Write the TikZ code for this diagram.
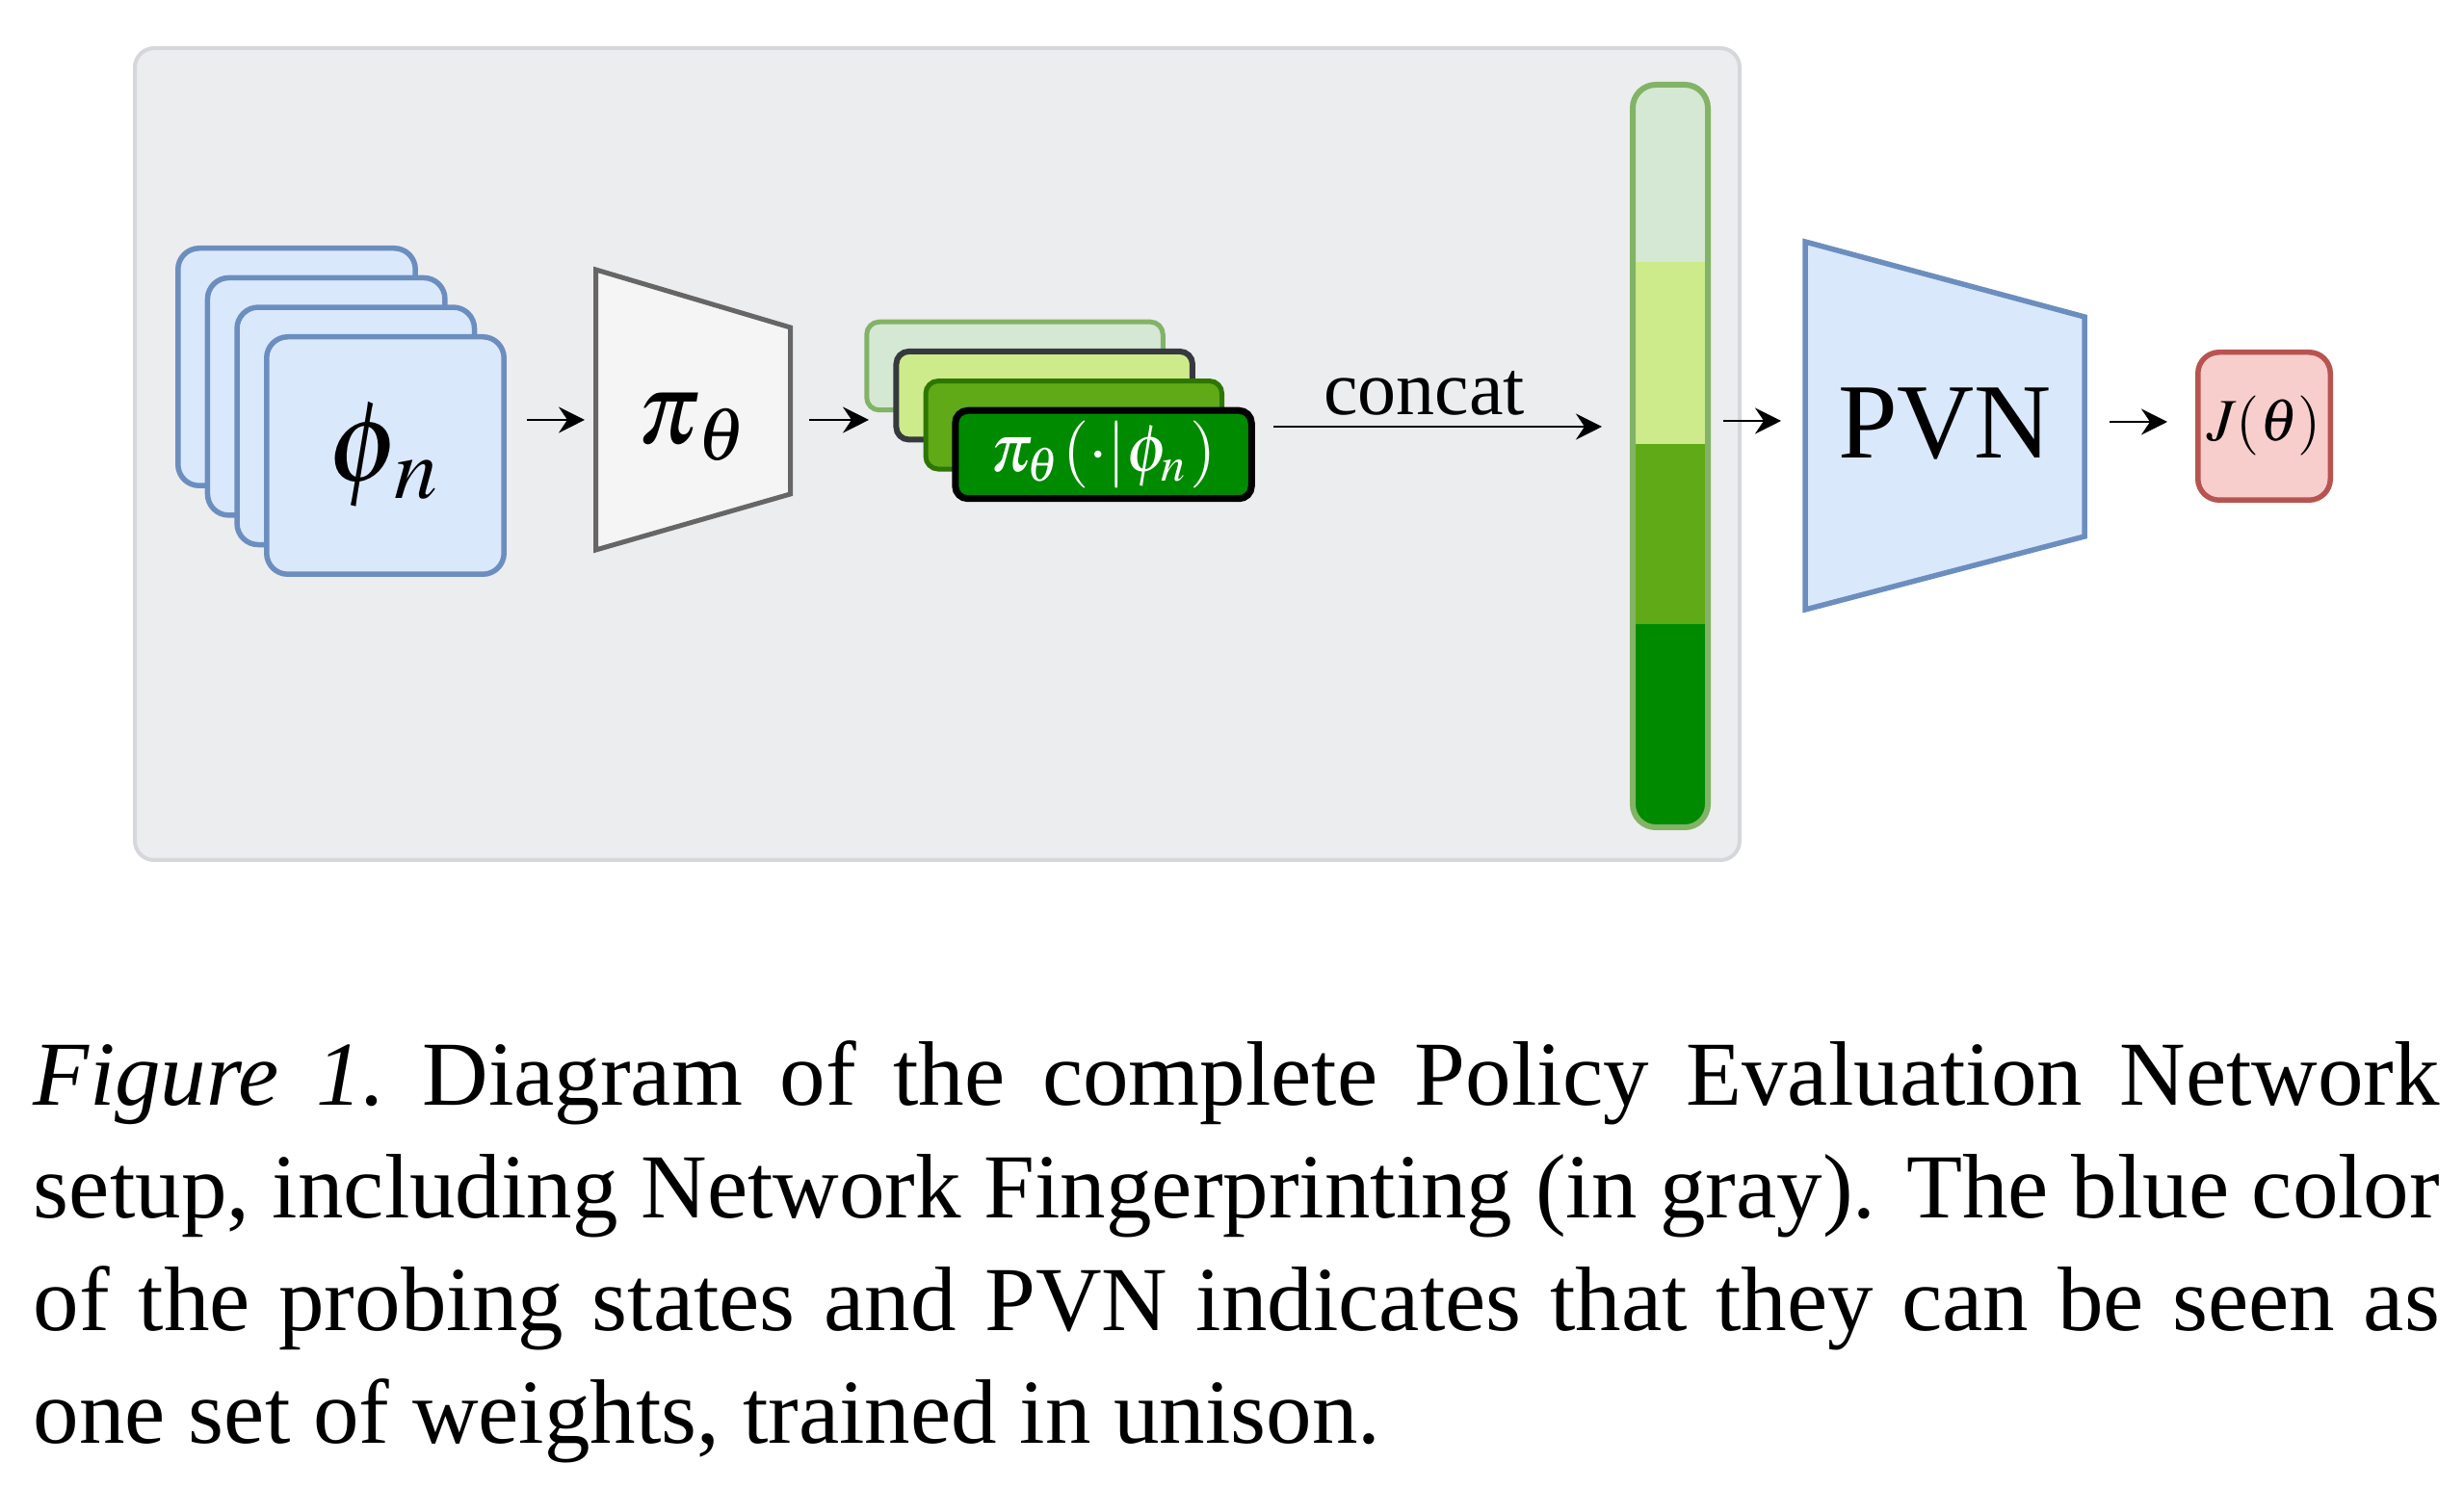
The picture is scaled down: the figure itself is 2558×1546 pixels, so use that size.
\documentclass[tikz,border=0pt]{standalone}
\usepackage{mathptmx}
\usepackage[no-math]{fontspec}
\setmainfont{Liberation Serif}
\usetikzlibrary{arrows.meta}
\definecolor{fpFill}{HTML}{ECEDEF}
\definecolor{fpDraw}{HTML}{D5D7DB}
\definecolor{blueFill}{HTML}{DAE8FC}
\definecolor{blueDraw}{HTML}{6C8EBF}
\definecolor{grayFill}{HTML}{F5F5F5}
\definecolor{grayDraw}{HTML}{666666}
\definecolor{paleGreen}{HTML}{D5E8D4}
\definecolor{paleGreenDraw}{HTML}{82B366}
\definecolor{limeGreen}{HTML}{CDEB8B}
\definecolor{limeGreenDraw}{HTML}{36393D}
\definecolor{midGreen}{HTML}{60A917}
\definecolor{midGreenDraw}{HTML}{2D7600}
\definecolor{darkGreen}{HTML}{008A00}
\definecolor{redFill}{HTML}{F8CECC}
\definecolor{redDraw}{HTML}{B85450}

\begin{document}
\begin{tikzpicture}[x=0.1pt,y=-0.1pt,
    probeBox/.style={draw=blueDraw,fill=blueFill,line width=0.55pt,rounded corners=2.2pt,
      minimum width=24.65pt,minimum height=24.65pt,inner sep=0pt},
    outBox/.style={rounded corners=1.3pt,minimum width=30.75pt,minimum height=9.15pt,inner sep=0pt},
    flow/.style={-{Stealth[length=2.7pt,width=2.7pt,inset=0.9pt]},line width=0.22pt}]
      \useasboundingbox (0,0) rectangle (2558,1546);
      %fingerprinting
      \draw[fill=fpFill,draw=fpDraw,line width=0.4pt,rounded corners=2pt] (140,50) rectangle (1806,893);
      \node[probeBox] (probeOne) at (308,381) {};
      \node[probeBox] (probeTwo) at (338.7,411.7) {};
      \node[probeBox] (probeThree) at (369.3,442.3) {};
      \node[probeBox,font=\fontsize{12}{14}\selectfont] (probeFour) at (400,473) {$\phi_{\kern0.6pt n}$};
      \draw[fill=grayFill,draw=grayDraw,line width=0.5pt] (618.5,280) -- (820.5,340) -- (820.5,513) -- (618.5,571) -- cycle;
      \node[font=\fontsize{10.5}{12}\selectfont] (policy) at (720,444) {$\pi_{\kern0.5pt\theta}$};
      \node[outBox,draw=paleGreenDraw,fill=paleGreen,line width=0.5pt] (outOne) at (1053.5,380) {};
      \node[outBox,draw=limeGreenDraw,fill=limeGreen,line width=0.6pt] (outTwo) at (1084.2,410.7) {};
      \node[outBox,draw=midGreenDraw,fill=midGreen,line width=0.5pt] (outThree) at (1114.8,441.3) {};
      \node[outBox,draw=black,fill=darkGreen,line width=0.7pt,text=white,
        font=\fontsize{7}{8}\selectfont] (outFour) at (1145.5,472) {$\pi_\theta(\cdot|\phi_n)$};
      %concatenated vector
      \begin{scope}
        \clip[rounded corners=2.4pt] (1695,88) rectangle (1773,859);
        \fill[paleGreen] (1695,88) rectangle (1773,272);
        \fill[limeGreen] (1695,272) rectangle (1773,461);
        \fill[midGreen] (1695,461) rectangle (1773,648);
        \fill[darkGreen] (1695,648) rectangle (1773,859);
      \end{scope}
      \draw[draw=paleGreenDraw,line width=0.6pt,rounded corners=2.4pt] (1695,88) rectangle (1773,859);
      %PVN
      \draw[fill=blueFill,draw=blueDraw,line width=0.55pt] (1874,251) -- (2164,329) -- (2164,557) -- (1874,633) -- cycle;
      \node[font=\fontsize{11.1}{13}\selectfont] (pvn) at (2019,440) {PVN};
      \node[draw=redDraw,fill=redFill,line width=0.55pt,rounded corners=2.2pt,
        minimum width=13.75pt,minimum height=15.35pt,inner sep=0pt,
        font=\fontsize{6.2}{7}\selectfont] (score) at (2350.5,442.5) {$J(\theta)$};
      %arrows
      \coordinate (probeOut) at (547,436);
      \coordinate (policyIn) at (607,436);
      \coordinate (policyOut) at (840,436);
      \coordinate (outIn) at (902,436);
      \coordinate (concatFrom) at (1322,443);
      \coordinate (concatTo) at (1663,443);
      \coordinate (vecOut) at (1789,437);
      \coordinate (pvnIn) at (1849,437);
      \coordinate (pvnOut) at (2190,438);
      \coordinate (scoreIn) at (2250,438);
      \draw[flow] (probeOut) -- (policyIn);
      \draw[flow] (policyOut) -- (outIn);
      \draw[flow] (concatFrom) -- node[above,inner sep=1.1pt,xshift=-1.4pt,font=\fontsize{8}{9}\selectfont] (concatLabel) {concat} (concatTo);
      \draw[flow] (vecOut) -- (pvnIn);
      \draw[flow] (pvnOut) -- (scoreIn);
      %caption
      \node[anchor=base west,text width=249.8pt,align=justify,inner sep=0pt,
        font=\fontsize{9.5}{11.7}\selectfont] (caption) at (33,1148)
        {{\itshape Figure 1.}\ Diagram of the complete Policy Evaluation Network\linebreak
         setup, including Network Fingerprinting (in gray). The blue color\linebreak
         of the probing states and PVN indicates that they can be seen as\linebreak
         one set of weights, trained in unison.};
\end{tikzpicture}
\end{document}
